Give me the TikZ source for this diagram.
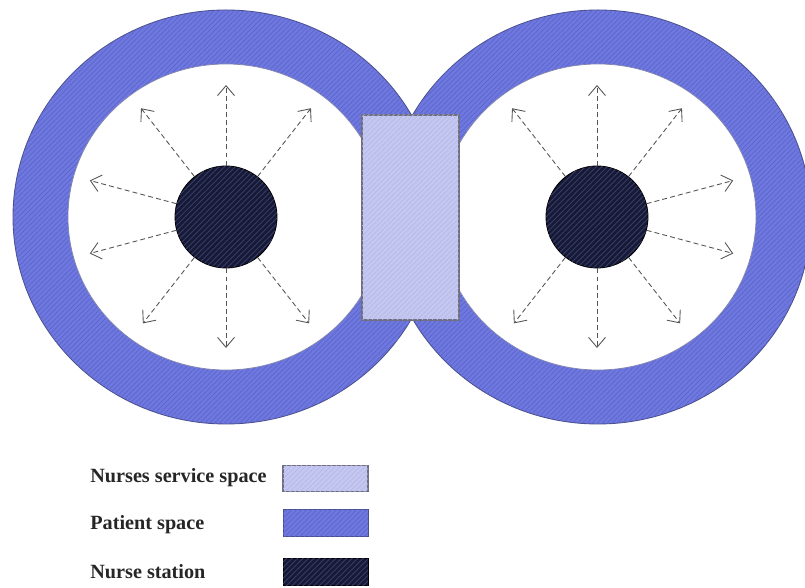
\documentclass[tikz,border=0pt]{standalone}
\usepackage{fontspec}
\setmainfont{Liberation Serif}
\usetikzlibrary{patterns.meta,arrows.meta}
\definecolor{ringFill}{HTML}{6F78DF}
\definecolor{ringHatch}{HTML}{5C65CC}
\definecolor{ringDraw}{HTML}{4A4F8A}
\definecolor{servFill}{HTML}{C4C7F0}
\definecolor{servHatch}{HTML}{B3B6E6}
\definecolor{servDraw}{HTML}{6E6F80}
\definecolor{stFill}{HTML}{171A36}
\definecolor{stHatch}{HTML}{383D66}
\definecolor{rayGray}{HTML}{555555}

\begin{document}
\begin{tikzpicture}[
  ringfill/.style={fill=ringFill,
    postaction={pattern={Lines[angle=45,distance=2pt,line width=0.4pt]},pattern color=ringHatch}},
  ring/.style={ringfill,draw=ringDraw,line width=0.5pt},
  room/.style={draw=ringDraw!70,line width=0.4pt,fill=white},
  serv/.style={draw=servDraw,line width=0.6pt,fill=servFill,
    postaction={pattern={Lines[angle=45,distance=2pt,line width=0.3pt]},pattern color=servHatch}},
  stn/.style={circle,draw=black,line width=0.5pt,fill=stFill,minimum size=2.04cm,inner sep=0pt,
    postaction={pattern={Lines[angle=45,distance=2.2pt,line width=0.5pt]},pattern color=stHatch}},
  ray/.style={draw=rayGray,line width=0.5pt,dash pattern=on 2.8pt off 1.8pt,
    -{Straight Barb[length=2mm,width=3.4mm]}},
  key/.style={minimum width=1.7cm,minimum height=0.53cm,inner sep=0pt},
  lbl/.style={font=\bfseries\fontsize{11.5}{13}\selectfont,anchor=west,inner sep=0pt,text=black!85},
]
\useasboundingbox (0,0) rectangle (16.1,11.76);

% ---- patient rings (outline first, then fill again to hide the overlap) ---
\path[ring] (4.52,7.42) ellipse [x radius=4.26,y radius=4.14];
\path[ring] (11.96,7.42) ellipse [x radius=4.26,y radius=4.14];
\path[ringfill] (4.52,7.42) ellipse [x radius=4.24,y radius=4.12];
\path[ringfill] (11.96,7.42) ellipse [x radius=4.24,y radius=4.12];
\path[room] (4.52,7.42) ellipse [x radius=3.16,y radius=3.06];
\path[room] (11.96,7.42) ellipse [x radius=3.16,y radius=3.06];

% ---- nurses service space ------------------------------------------------
\node[serv,minimum width=1.94cm,minimum height=4.1cm,inner sep=0pt] (SV) at (8.21,7.41) {};

% ---- nurse stations -------------------------------------------------------
\node[stn] (S1) at (4.52,7.42) {};
\node[stn] (S2) at (11.94,7.42) {};

% ---- dashed rays ----------------------------------------------------------
\foreach \a/\l in {90/2.64,52/2.76,128/2.76,165/2.82,195/2.82,232/2.70,308/2.70,270/2.62}{
  \path (S1) ++(\a:\l) coordinate (T1-\a);
  \draw[ray] (S1.\a) -- (T1-\a);
}
\foreach \a/\l in {90/2.64,52/2.76,128/2.76,15/2.82,345/2.82,232/2.70,308/2.70,270/2.62}{
  \path (S2) ++(\a:\l) coordinate (T2-\a);
  \draw[ray] (S2.\a) -- (T2-\a);
}

% ---- legend ---------------------------------------------------------------
\node[serv,key] (K1) at (6.51,2.19) {};
\node[ring,key] (K2) at (6.51,1.30) {};
\node[stn,rectangle,key] (K3) at (6.51,0.32) {};
\node[lbl] (L1) at (1.8,2.2)  {Nurses service space};
\node[lbl] (L2) at (1.8,1.27) {Patient space};
\node[lbl] (L3) at (1.8,0.33) {Nurse station};

\end{tikzpicture}
\end{document}
